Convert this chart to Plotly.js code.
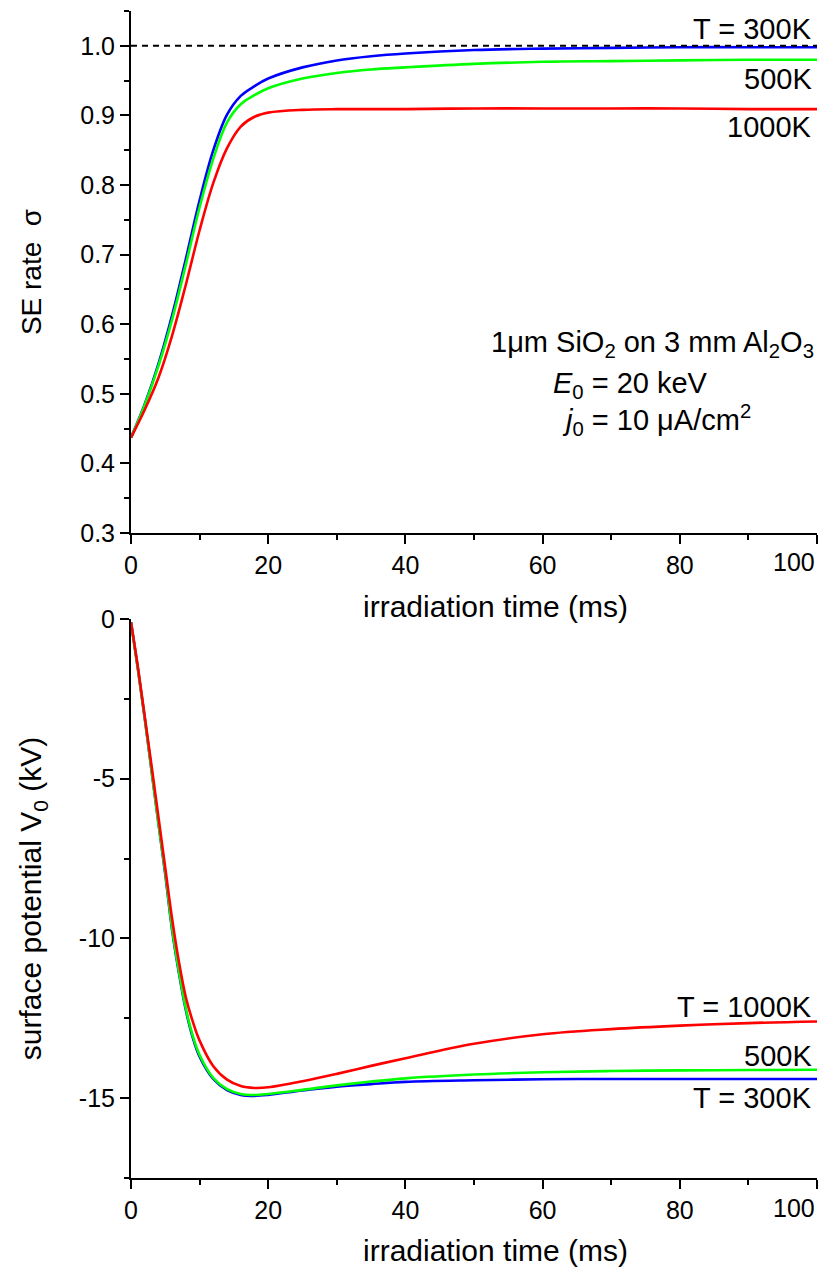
<!DOCTYPE html>
<html>
<head>
<meta charset="utf-8">
<script src="https://cdn.plot.ly/plotly-3.0.1.min.js"></script>
<style>html,body{margin:0;padding:0;background:#fff;}#chart{width:826px;height:1270px;}</style>
</head>
<body>
<div id="chart"></div>
<script>
// ---- data ----
const tTop = [0,2,4,6,8,10,12,14,16,18,20,25,30,35,40,50,60,70,80,90,100];
const sigma300 = [0.437,0.485,0.543,0.613,0.694,0.778,0.850,0.901,0.928,0.942,0.953,0.969,0.979,0.985,0.989,0.994,0.996,0.997,0.998,0.998,0.998];
const sigma500 = [0.437,0.484,0.540,0.607,0.686,0.768,0.838,0.890,0.916,0.929,0.939,0.953,0.961,0.966,0.969,0.974,0.977,0.978,0.979,0.980,0.980];
const sigma1000 = [0.437,0.477,0.523,0.584,0.657,0.735,0.803,0.853,0.884,0.898,0.904,0.908,0.909,0.909,0.909,0.910,0.910,0.910,0.910,0.909,0.909];

const tBot = [0,1,2,3,4,5,6,7,8,9,10,12,14,16,18,20,25,30,35,40,50,60,70,80,90,100];
const v300 = [-0.1,-1.55,-3.1,-4.75,-6.4,-8.0,-9.75,-11.1,-12.25,-13.1,-13.7,-14.4,-14.75,-14.9,-14.93,-14.9,-14.76,-14.64,-14.56,-14.49,-14.44,-14.41,-14.4,-14.4,-14.4,-14.4];
const v500 = [-0.1,-1.55,-3.1,-4.75,-6.4,-7.95,-9.7,-11.05,-12.2,-13.05,-13.65,-14.37,-14.72,-14.87,-14.9,-14.87,-14.74,-14.6,-14.48,-14.38,-14.26,-14.19,-14.15,-14.13,-14.12,-14.11];
const v1000 = [-0.1,-1.5,-3.05,-4.6,-6.2,-7.8,-9.4,-10.75,-11.85,-12.6,-13.2,-14.0,-14.42,-14.62,-14.68,-14.66,-14.47,-14.24,-13.99,-13.75,-13.3,-13.0,-12.84,-12.73,-12.65,-12.6];

const xTickVals = [0,20,40,60,80,100];
const xTickText = ["0","20","40","60","80",""];
const lastXLabel = "100";
const yTopTickVals = [0.3,0.4,0.5,0.6,0.7,0.8,0.9,1.0];
const yTopTickText = ["0.3","0.4","0.5","0.6","0.7","0.8","0.9","1.0"];
const yBotTickVals = [-15,-10,-5,0];
const yBotTickText = ["-15","-10","-5","0"];
const xTitle = "irradiation time (ms)";

const tempLabelsTop = ["T = 300K","500K","1000K"];
const tempLabelsBot = ["T = 1000K","500K","T = 300K"];
const colors = {c300:"#0000ff", c500:"#00ff00", c1000:"#ff0000"};

const FONT = "Liberation Sans, Arial, Helvetica, sans-serif";
const lw = 2.6;
function tr(x,y,c,xa,ya){return {x:x,y:y,type:"scatter",mode:"lines",line:{color:c,width:lw,shape:"spline",smoothing:1.0},xaxis:xa,yaxis:ya,showlegend:false,hoverinfo:"skip"};}

const data = [
  tr(tTop,sigma300,colors.c300,"x","y"),
  tr(tTop,sigma500,colors.c500,"x","y"),
  tr(tTop,sigma1000,colors.c1000,"x","y"),
  tr(tBot,v300,colors.c300,"x2","y2"),
  tr(tBot,v500,colors.c500,"x2","y2"),
  tr(tBot,v1000,colors.c1000,"x2","y2")
];

const TICKSIZE = 25, TITLESIZE = 30, ANNSIZE = 29;
const axCommon = {
  showline:true, linecolor:"#000", linewidth:2, mirror:false,
  ticks:"outside", ticklen:9, tickwidth:2, tickcolor:"#000",
  showgrid:false, zeroline:false, tickmode:"array",
  tickfont:{family:FONT,size:TICKSIZE,color:"#000"}
};
const minorX = {dtick:10, tick0:0, ticks:"outside", ticklen:5, tickwidth:2, tickcolor:"#000", showgrid:false};
function ann(xref,yref,x,y,text,xanchor,size){return {xref:xref,yref:yref,x:x,y:y,text:text,xanchor:xanchor,yanchor:"middle",showarrow:false,font:{family:FONT,size:size,color:"#000"}};}

const layout = {
  width:826, height:1270,
  margin:{l:131,r:9,t:11,b:92},
  paper_bgcolor:"#fff", plot_bgcolor:"#fff",
  font:{family:FONT,color:"#000"},
  xaxis: Object.assign({}, axCommon, {
    domain:[0,1], anchor:"y", range:[0,100], tickvals:xTickVals, ticktext:xTickText,
    minor:minorX
  }),
  yaxis: Object.assign({}, axCommon, {
    domain:[0.5527,1], anchor:"x", range:[0.3,1.05], tickvals:yTopTickVals, ticktext:yTopTickText,
    minor:{dtick:0.05, tick0:0.3, ticks:"outside", ticklen:5, tickwidth:2, tickcolor:"#000", showgrid:false},
    title:{text:"SE rate  σ", font:{family:FONT,size:28,color:"#000"}, standoff:30}
  }),
  xaxis2: Object.assign({}, axCommon, {
    domain:[0,1], anchor:"y2", range:[0,100], tickvals:xTickVals, ticktext:xTickText,
    minor:minorX
  }),
  yaxis2: Object.assign({}, axCommon, {
    domain:[0,0.479], anchor:"x2", range:[-17.5,0], tickvals:yBotTickVals, ticktext:yBotTickText,
    minor:{dtick:2.5, tick0:0, ticks:"outside", ticklen:5, tickwidth:2, tickcolor:"#000", showgrid:false},
    title:{text:"surface potential V<sub>0</sub> (kV)", font:{family:FONT,size:TITLESIZE,color:"#000"}, standoff:28}
  }),
  shapes:[
    {type:"line", xref:"x", yref:"y", x0:0, x1:100, y0:1.0, y1:1.0, line:{color:"#000",width:2,dash:"6px,5px"}, layer:"above"}
  ],
  annotations:[
    ann("x","paper",100,0.5279,lastXLabel,"right",TICKSIZE),
    ann("x2","paper",100,-0.0257,lastXLabel,"right",TICKSIZE),
    ann("paper","paper",0.532,0.4901,xTitle,"center",TITLESIZE),
    ann("paper","paper",0.532,-0.0617,xTitle,"center",TITLESIZE),
    ann("x","y",99.6,1.024,tempLabelsTop[0],"right",ANNSIZE),
    ann("x","y",99.6,0.953,tempLabelsTop[1],"right",ANNSIZE),
    ann("x","y",99.6,0.883,tempLabelsTop[2],"right",ANNSIZE),
    ann("x","y",99.8,0.572,"1μm SiO<sub>2</sub> on 3 mm Al<sub>2</sub>O<sub>3</sub>","right",ANNSIZE),
    ann("x","y",61.2,0.513,"<i>E</i><sub>0</sub> = 20 keV","left",ANNSIZE),
    ann("x","y",62.6,0.463,"<i>j</i><sub>0</sub> = 10 μA/cm<sup>2</sup>","left",ANNSIZE),
    ann("x2","y2",99.6,-12.15,tempLabelsBot[0],"right",ANNSIZE),
    ann("x2","y2",99.6,-13.69,tempLabelsBot[1],"right",ANNSIZE),
    ann("x2","y2",99.6,-15.0,tempLabelsBot[2],"right",ANNSIZE)
  ]
};

Plotly.newPlot("chart", data, layout, {displayModeBar:false, staticPlot:true});
</script>
</body>
</html>
